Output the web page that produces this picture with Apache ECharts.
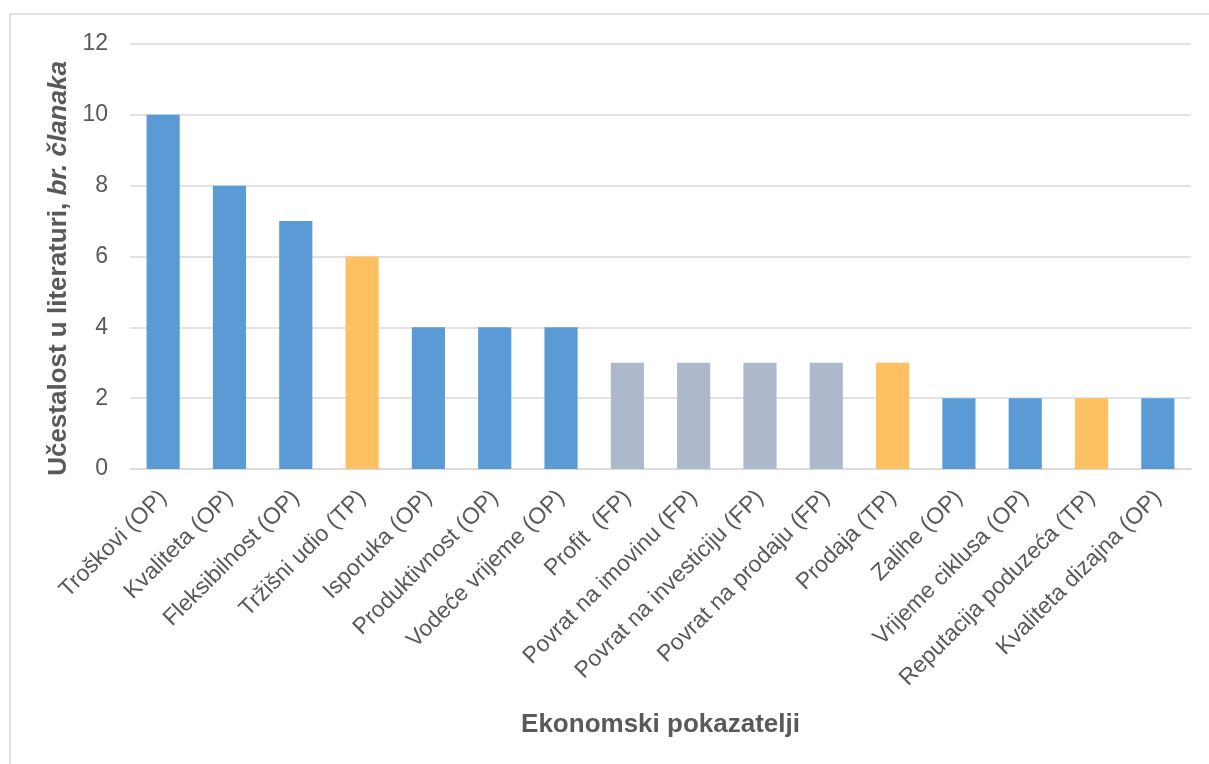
<!DOCTYPE html>
<html>
<head>
<meta charset="utf-8">
<script src="https://cdn.jsdelivr.net/npm/echarts@6/dist/echarts.min.js"></script>
<style>
html,body{margin:0;padding:0;background:#fff;}
#c{width:1209px;height:764px;}
</style>
</head>
<body>
<div id="c"></div>
<script>
const categories = ["Troškovi (OP)","Kvaliteta (OP)","Fleksibilnost (OP)","Tržišni udio (TP)","Isporuka (OP)","Produktivnost (OP)","Vodeće vrijeme (OP)","Profit  (FP)","Povrat na imovinu (FP)","Povrat na investiciju (FP)","Povrat na prodaju (FP)","Prodaja (TP)","Zalihe (OP)","Vrijeme ciklusa (OP)","Reputacija poduzeća (TP)","Kvaliteta dizajna (OP)"];
const values = [10,8,7,6,4,4,4,3,3,3,3,3,2,2,2,2];
const groups = ["OP","OP","OP","TP","OP","OP","OP","FP","FP","FP","FP","TP","OP","OP","TP","OP"];
const yTicks = [0,2,4,6,8,10,12];

const colorMap = {OP:"#5B9BD5", TP:"#FFC061", FP:"#ADB9CA"};
const chart = echarts.init(document.getElementById('c'));
const font = "'Liberation Sans', Arial, sans-serif";
chart.setOption({
  animation:false,
  backgroundColor:'#fff',
  graphic:[{type:'rect',shape:{x:10,y:14,width:1300,height:900},style:{fill:'none',stroke:'#D9D9D9',lineWidth:1.5},silent:true,z:-1}],
  grid:{left:130,right:18,top:44,bottom:295,containLabel:false},
  xAxis:{
    type:'category',
    data:categories,
    name:'Ekonomski pokazatelji',
    nameLocation:'middle',
    nameGap:243,
    nameTextStyle:{fontFamily:font,fontSize:26,fontWeight:'bold',color:'#595959'},
    axisLine:{lineStyle:{color:'#D9D9D9',width:1.5}},
    axisTick:{show:false},
    axisLabel:{rotate:45,interval:0,fontFamily:font,fontSize:23,color:'#595959',margin:25}
  },
  yAxis:{
    type:'value',
    min:yTicks[0],max:yTicks[yTicks.length-1],interval:2,
    name:'{b|Učestalost u literaturi, }{i|br. članaka}',
    nameLocation:'middle',
    nameGap:57,
    nameRotate:90,
    nameTextStyle:{padding:[0,24,0,0],rich:{
      b:{fontFamily:font,fontSize:26,fontWeight:'bold',color:'#595959'},
      i:{fontFamily:font,fontSize:26,fontWeight:'bold',fontStyle:'italic',color:'#595959'}
    }},
    axisLine:{show:false},
    axisTick:{show:false},
    axisLabel:{fontFamily:font,fontSize:23,color:'#595959',margin:22},
    splitLine:{lineStyle:{color:'#D9D9D9',width:1.5}}
  },
  series:[{
    type:'bar',
    barWidth:'50%',
    data:values.map((v,i)=>({value:v,itemStyle:{color:colorMap[groups[i]]}}))
  }]
});
</script>
</body>
</html>
